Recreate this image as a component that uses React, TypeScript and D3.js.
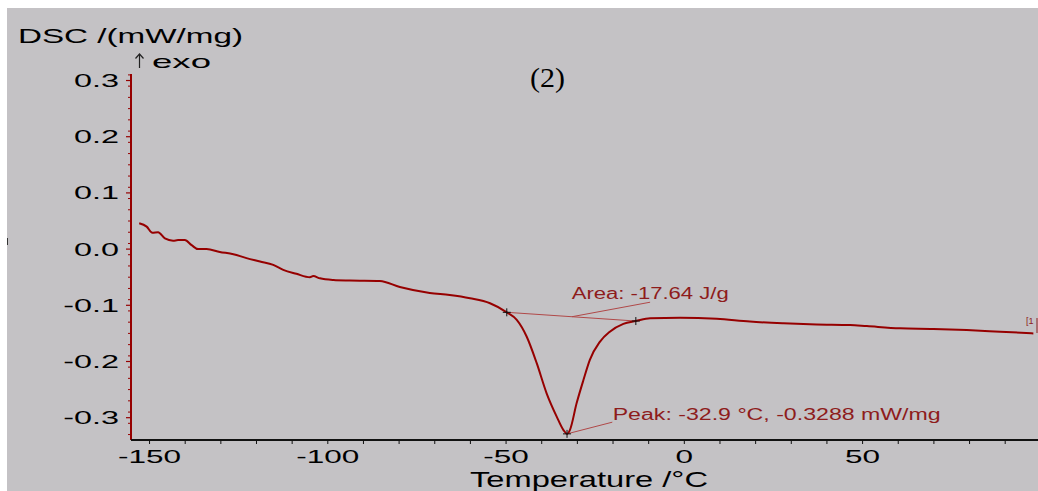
import React, { useLayoutEffect } from "react";
import * as d3 from "d3";

// Temperature (°C) and DSC signal (mW/mg)
const temps = [
  -152.9, -150.8, -149.2, -147.6, -145.7, -143.4, -142.0, -140.1, -138.2, -136.4,
  -134.0, -130.3, -126.5, -122.8, -119.0, -115.3, -112.5, -108.8, -105.0, -104.1,
  -102.2, -98.4, -93.8, -85.4, -79.8, -71.4, -65.8, -60.1, -54.5, -49.8,
  -47.0, -44.2, -41.4, -38.6, -35.8, -33.9, -32.9, -32.1, -30.2, -28.3,
  -26.5, -23.7, -20.9, -17.1, -13.6, -9.6, -1.2, 9.1, 18.4, 27.8,
  37.1, 46.5, 51.2, 60.5, 69.9, 79.2, 88.6, 97.9,
];
const dsc = [
  0.046, 0.04, 0.029, 0.03, 0.019, 0.015, 0.016, 0.016, 0.007, 0.0,
  0.0, -0.005, -0.009, -0.016, -0.022, -0.028, -0.037, -0.044, -0.05, -0.048,
  -0.052, -0.055, -0.056, -0.0568, -0.0674, -0.0781, -0.0817, -0.0875, -0.0964, -0.1125,
  -0.126, -0.156, -0.203, -0.257, -0.298, -0.322, -0.3288, -0.322, -0.274, -0.233,
  -0.197, -0.165, -0.147, -0.133, -0.128, -0.123, -0.122, -0.124, -0.129, -0.132,
  -0.134, -0.135, -0.137, -0.141, -0.142, -0.144, -0.147, -0.15,
];

const xMajorTicks = [-150, -100, -50, 0, 50];
const xMinorTicks = [-150, -140, -130, -120, -110, -100, -90, -80, -70, -60, -50, -40, -30, -20, -10, 0, 10, 20, 30, 40, 50, 60, 70, 80, 90];
const yMajorTicks = [0.3, 0.2, 0.1, 0.0, -0.1, -0.2, -0.3];
const yMinorTicks = d3.range(-33, 32, 2).map((v) => v / 100);

// Peak evaluation
const onsetPoint = [-49.8, -0.1125];
const endPoint = [-13.6, -0.128];
const peakPoint = [-32.9, -0.3288];
const areaLeaderFrom = [-31.5, -0.1203];
const areaLeaderTo = [-9.6, -0.0945];
const peakLeaderTo = [-20.2, -0.308];
const areaText = "Area: -17.64 J/g";
const peakText = "Peak: -32.9 °C, -0.3288 mW/mg";

const BG = "#c4c2c5";
const RED = "#960000";
const ANN = "#8e1c1c";
const SANS = "'Liberation Sans', Arial, 'DejaVu Sans', sans-serif";

function Stretch({ x, y, sx, anchor, size, fill, family, children }: any) {
  return (
    <text
      transform={`translate(${x},${y}) scale(${sx},1)`}
      textAnchor={anchor || "start"}
      fontSize={size}
      fill={fill || "#000"}
      fontFamily={family || SANS}
    >
      {children}
    </text>
  );
}

export default function App() {
  useLayoutEffect(() => {
    document.body.style.margin = "0";
  }, []);
  const W = 1038;
  const H = 491;
  const x = d3.scaleLinear().domain([-155.2, 99.2]).range([131, 1038]);
  const y = d3.scaleLinear().domain([-0.3397, 0.3116]).range([440, 74]);
  const pts: [number, number][] = temps.map((t, i) => [t, dsc[i]]);
  const line = d3
    .line<[number, number]>()
    .x((d) => x(d[0]))
    .y((d) => y(d[1]))
    .curve(d3.curveMonotoneX);

  const plus = (p: number[], key: string) => {
    const px = x(p[0]);
    const py = y(p[1]);
    return (
      <g key={key} stroke="#111" strokeWidth={1}>
        <line x1={px - 4} x2={px + 4} y1={py} y2={py} />
        <line x1={px} x2={px} y1={py - 4} y2={py + 4} />
      </g>
    );
  };

  return (
    <svg width={W} height={H} style={{ display: "block" }}>
      <rect x={0} y={0} width={W} height={H} fill="#fff" />
      <rect x={7} y={8} width={W - 7} height={H - 8} fill={BG} />
      <line x1={7.5} x2={7.5} y1={238} y2={245} stroke="#333" strokeWidth={1} />

      {/* titles */}
      <text x={18} y={43} fontSize={21} fontFamily={SANS} textLength={225} lengthAdjust="spacingAndGlyphs">
        DSC /(mW/mg)
      </text>
      <g stroke="#222" strokeWidth={1.2} fill="none">
        <line x1={139.5} x2={139.5} y1={54} y2={68} />
        <polyline points="135.5,58.5 139.5,54 143.5,58.5" />
      </g>
      <text x={152} y={68} fontSize={19} fontFamily={SANS} textLength={59} lengthAdjust="spacingAndGlyphs">
        exo
      </text>
      <text x={530} y={87} fontSize={27} fontFamily="'Liberation Serif', 'Times New Roman', serif" textLength={35} lengthAdjust="spacingAndGlyphs">
        (2)
      </text>
      <text x={589} y={487} fontSize={22} fontFamily={SANS} textAnchor="middle" textLength={238} lengthAdjust="spacingAndGlyphs">
        Temperature /°C
      </text>

      {/* y axis */}
      <line x1={131} x2={131} y1={74} y2={440} stroke={RED} strokeWidth={2} />
      {yMinorTicks.map((v) => (
        <line key={"ym" + v} x1={128} x2={131} y1={y(v)} y2={y(v)} stroke={RED} strokeWidth={1} />
      ))}
      {yMajorTicks.map((v) => (
        <line key={"yM" + v} x1={126} x2={131} y1={y(v)} y2={y(v)} stroke={RED} strokeWidth={1.2} />
      ))}
      {yMajorTicks.map((v) => (
        <Stretch key={"yl" + v} x={119} y={y(v) + 6.5} sx={1.85} anchor="end" size={17.5}>
          {v.toFixed(1)}
        </Stretch>
      ))}

      {/* x axis */}
      <line x1={131} x2={1038} y1={440} y2={440} stroke="#111" strokeWidth={2} />
      {xMinorTicks.map((v) => (
        <line key={"xm" + v} x1={x(v)} x2={x(v)} y1={440} y2={444} stroke="#111" strokeWidth={1} />
      ))}
      {xMajorTicks.map((v) => (
        <Stretch key={"xl" + v} x={x(v)} y={463} sx={1.8} anchor="middle" size={17.5}>
          {String(v)}
        </Stretch>
      ))}

      {/* evaluation baseline & leaders */}
      <line x1={x(onsetPoint[0])} y1={y(onsetPoint[1])} x2={x(endPoint[0])} y2={y(endPoint[1])} stroke="#b04848" strokeWidth={1} />
      <line x1={x(areaLeaderFrom[0])} y1={y(areaLeaderFrom[1])} x2={x(areaLeaderTo[0])} y2={y(areaLeaderTo[1])} stroke="#b04848" strokeWidth={1} />
      <line x1={x(peakPoint[0])} y1={y(peakPoint[1])} x2={x(peakLeaderTo[0])} y2={y(peakLeaderTo[1])} stroke="#b04848" strokeWidth={1} />

      {/* curve */}
      <path d={line(pts) || ""} fill="none" stroke={RED} strokeWidth={2} strokeLinejoin="round" />

      {plus(onsetPoint, "on")}
      {plus(endPoint, "end")}
      {plus(peakPoint, "pk")}

      <text x={571.7} y={299} fontSize={16} fill={ANN} fontFamily={SANS} textLength={157} lengthAdjust="spacingAndGlyphs">
        {areaText}
      </text>
      <text x={612.7} y={420} fontSize={16} fill={ANN} fontFamily={SANS} textLength={328} lengthAdjust="spacingAndGlyphs">
        {peakText}
      </text>

      {/* curve end marker */}
      <text x={1026} y={324} fontSize={9} fill={ANN} fontFamily={SANS}>
        [1
      </text>
      <line x1={1037} x2={1037} y1={318} y2={333} stroke={ANN} strokeWidth={1} />
    </svg>
  );
}
